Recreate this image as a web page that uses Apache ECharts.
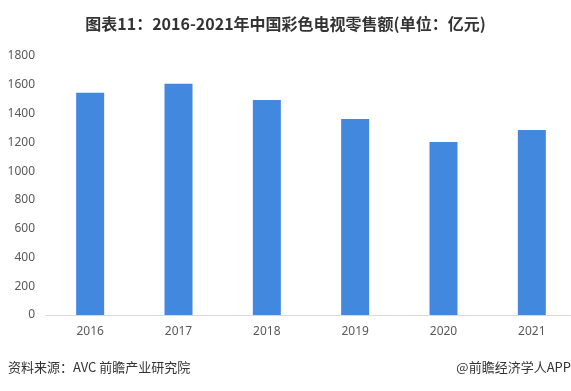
<!DOCTYPE html>
<html><head><meta charset="utf-8">
<script src="https://cdn.jsdelivr.net/npm/echarts@6/dist/echarts.min.js"></script>
<style>html,body{margin:0;padding:0;background:#fff}#c{width:571px;height:391px}</style>
</head><body><div id="c"></div>
<script>
var categories = ['2016','2017','2018','2019','2020','2021'];
var values = [1545, 1607, 1494, 1362, 1202, 1286];
var yTicks = [0,200,400,600,800,1000,1200,1400,1600,1800];
var chart = echarts.init(document.getElementById('c'));
chart.setOption({
  animation:false,
  backgroundColor:'#fff',
  title:{text:'图表11：2016-2021年中国彩色电视零售额(单位：亿元)',left:'center',top:11,
    textStyle:{fontSize:16,fontWeight:'bold',color:'#333',fontFamily:'"Noto Sans CJK SC", sans-serif'}},
  graphic:[
    {type:'text',left:8,top:361,style:{text:'资料来源：AVC 前瞻产业研究院',fontSize:13,fill:'#333',fontFamily:'"Noto Sans CJK SC", sans-serif'}},
    {type:'text',right:0,top:361,style:{text:'@前瞻经济学人APP',fontSize:13,fill:'#333',fontFamily:'"Noto Sans CJK SC", sans-serif'}}
  ],
  grid:{left:46,width:530,top:56,bottom:76,containLabel:false,outerBoundsMode:'none'},
  xAxis:{type:'category',data:categories,
    axisLine:{lineStyle:{color:'#d9d9d9'}},axisTick:{show:false},
    axisLabel:{color:'#595959',fontSize:12,margin:11,fontFamily:'"Noto Sans", sans-serif'}},
  yAxis:{type:'value',min:yTicks[0],max:yTicks[yTicks.length-1],interval:200,
    axisLine:{show:false},axisTick:{show:false},splitLine:{show:false},
    axisLabel:{color:'#595959',fontSize:12,margin:11,formatter:function(v){return String(v);},fontFamily:'"Noto Sans", sans-serif'}},
  series:[{type:'bar',data:values,barWidth:28,itemStyle:{color:'#4188de'}}]
});
</script></body></html>
